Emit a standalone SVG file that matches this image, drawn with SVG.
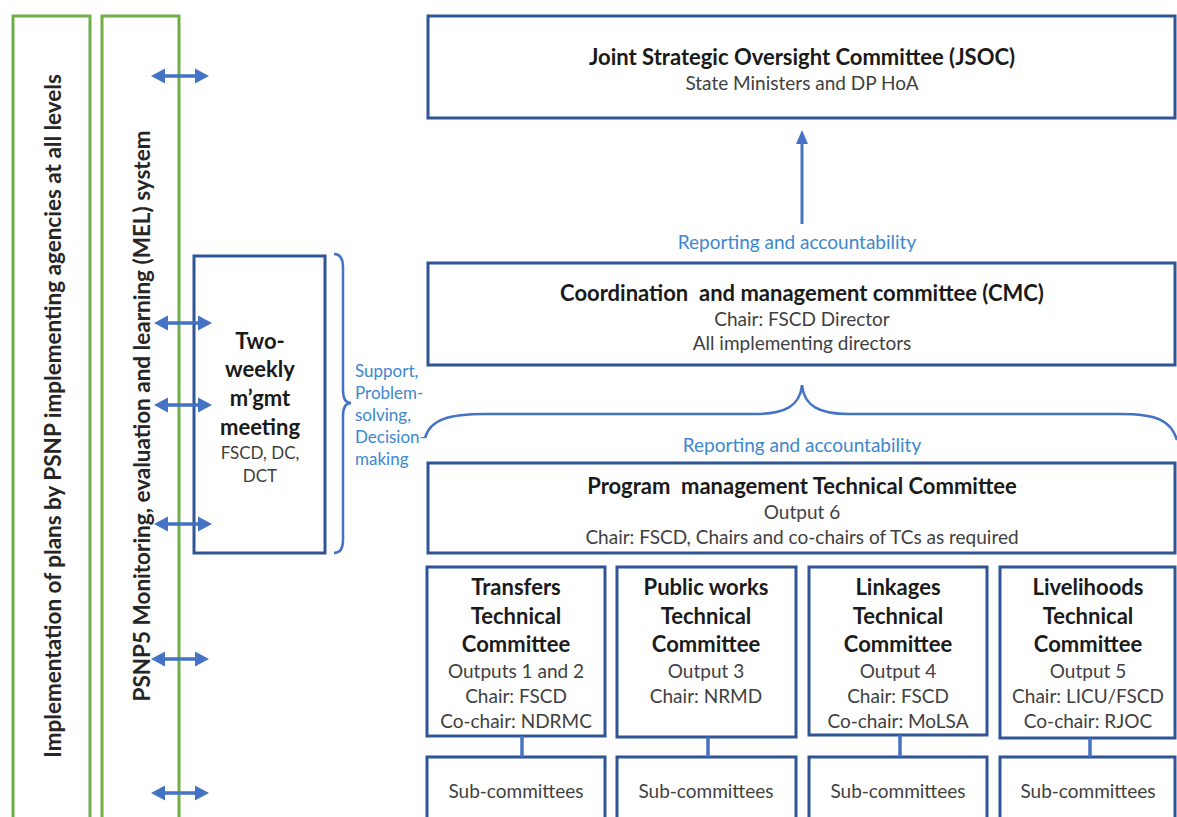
<svg xmlns="http://www.w3.org/2000/svg" xmlns:xlink="http://www.w3.org/1999/xlink" width="1177" height="817" viewBox="0 0 1177 817">
  <style>
    text { font-family: Lato, "Liberation Sans", sans-serif; text-anchor: middle; dominant-baseline: central; }
    .box { fill: #ffffff; stroke: #2F5597; stroke-width: 3; }
    .bar { fill: none; stroke: #70AD47; stroke-width: 3; }
    .ttl { font-size: 22px; font-weight: 700; fill: #1a1a1a; }
    .tc { font-size: 22px; font-weight: 700; fill: #1a1a1a; }
    .sub { font-size: 19px; fill: #404040; }
    .small { font-size: 17px; fill: #404040; }
    .lbl { font-size: 19px; fill: #3C87CF; }
    .side { font-size: 17px; fill: #3C87CF; text-anchor: start; }
    .vert { font-size: 22.5px; font-weight: 700; fill: #262626; }
    .wire { fill: none; stroke: #4472C4; stroke-width: 2.5; }
    .link { fill: none; stroke: #4472C4; stroke-width: 3.5; }
    .arrow { fill: #4472C4; }
  </style>
  <defs>
    <!-- two-headed horizontal arrow, 58 px long, centred on y=0 -->
    <path id="dbl" class="arrow" d="M0,0 L14,-7.5 L14,-1.8 L44,-1.8 L44,-7.5 L58,0 L44,7.5 L44,1.8 L14,1.8 L14,7.5 Z"/>
  </defs>
  <rect width="1177" height="817" fill="#ffffff"/>

  <!-- vertical side bands -->
  <g id="implementation-band">
    <rect class="bar" x="13" y="16" width="77" height="820"/>
    <text class="vert" transform="translate(52,416) rotate(-90)">Implementation of plans by PSNP implementing agencies at all levels</text>
  </g>
  <g id="mel-band">
    <rect class="bar" x="102" y="16" width="77" height="820"/>
    <text class="vert" transform="translate(141,416) rotate(-90)">PSNP5 Monitoring, evaluation and learning (MEL) system</text>
  </g>

  <!-- management meeting -->
  <g id="two-weekly-meeting">
    <rect class="box" x="194" y="256" width="131" height="297"/>
    <text class="tc" x="260" y="340">Two-</text>
    <text class="tc" x="260" y="368">weekly</text>
    <text class="tc" x="260" y="397">m’gmt</text>
    <text class="tc" x="260" y="426">meeting</text>
    <text class="small" x="260" y="452">FSCD, DC,</text>
    <text class="small" x="260" y="475">DCT</text>
  </g>

  <g id="support-label">
    <text class="side" x="355" y="370">Support,</text>
    <text class="side" x="355" y="392">Problem-</text>
    <text class="side" x="355" y="414">solving,</text>
    <text class="side" x="355" y="436">Decision-</text>
    <text class="side" x="355" y="458">making</text>
  </g>

  <!-- committees -->
  <g id="jsoc">
    <rect class="box" x="428" y="16" width="747" height="102"/>
    <text class="ttl" x="802" y="56">Joint Strategic Oversight Committee (JSOC)</text>
    <text class="sub" x="802" y="82">State Ministers and DP HoA</text>
  </g>
  <g id="cmc">
    <rect class="box" x="428" y="263" width="747" height="102"/>
    <text class="ttl" x="802" y="292" xml:space="preserve">Coordination  and management committee (CMC)</text>
    <text class="sub" x="802" y="318">Chair: FSCD Director</text>
    <text class="sub" x="802" y="342">All implementing directors</text>
  </g>
  <g id="pmtc">
    <rect class="box" x="428" y="463" width="747" height="90"/>
    <text class="ttl" x="802" y="485" xml:space="preserve">Program  management Technical Committee</text>
    <text class="sub" x="802" y="511">Output 6</text>
    <text class="sub" x="802" y="536">Chair: FSCD, Chairs and co-chairs of TCs as required</text>
  </g>

  <g id="transfers-tc">
    <rect class="box" x="427" y="567" width="178" height="169"/>
    <text class="tc" x="516" y="586">Transfers</text>
    <text class="tc" x="516" y="615">Technical</text>
    <text class="tc" x="516" y="643">Committee</text>
    <text class="sub" x="516" y="670">Outputs 1 and 2</text>
    <text class="sub" x="516" y="695">Chair: FSCD</text>
    <text class="sub" x="516" y="720">Co-chair: NDRMC</text>
  </g>
  <g id="public-works-tc">
    <rect class="box" x="617" y="567" width="179" height="170"/>
    <text class="tc" x="706" y="586">Public works</text>
    <text class="tc" x="706" y="615">Technical</text>
    <text class="tc" x="706" y="643">Committee</text>
    <text class="sub" x="706" y="670">Output 3</text>
    <text class="sub" x="706" y="695">Chair: NRMD</text>
  </g>
  <g id="linkages-tc">
    <rect class="box" x="809" y="567" width="178" height="168"/>
    <text class="tc" x="898" y="586">Linkages</text>
    <text class="tc" x="898" y="615">Technical</text>
    <text class="tc" x="898" y="643">Committee</text>
    <text class="sub" x="898" y="670">Output 4</text>
    <text class="sub" x="898" y="695">Chair: FSCD</text>
    <text class="sub" x="898" y="720">Co-chair: MoLSA</text>
  </g>
  <g id="livelihoods-tc">
    <rect class="box" x="1000" y="567" width="175" height="171"/>
    <text class="tc" x="1088" y="586">Livelihoods</text>
    <text class="tc" x="1088" y="615">Technical</text>
    <text class="tc" x="1088" y="643">Committee</text>
    <text class="sub" x="1088" y="670">Output 5</text>
    <text class="sub" x="1088" y="695">Chair: LICU/FSCD</text>
    <text class="sub" x="1088" y="720">Co-chair: RJOC</text>
  </g>

  <g id="transfers-sub">
    <rect class="box" x="427" y="757" width="178" height="80"/>
    <text class="sub" x="516" y="790">Sub-committees</text>
  </g>
  <g id="public-works-sub">
    <rect class="box" x="617" y="757" width="179" height="80"/>
    <text class="sub" x="706" y="790">Sub-committees</text>
  </g>
  <g id="linkages-sub">
    <rect class="box" x="809" y="757" width="178" height="80"/>
    <text class="sub" x="898" y="790">Sub-committees</text>
  </g>
  <g id="livelihoods-sub">
    <rect class="box" x="1000" y="757" width="175" height="80"/>
    <text class="sub" x="1088" y="790">Sub-committees</text>
  </g>

  <!-- connectors -->
  <g id="connectors">
    <use xlink:href="#dbl" x="151" y="76"/>
    <use xlink:href="#dbl" x="154" y="323"/>
    <use xlink:href="#dbl" x="154" y="405"/>
    <use xlink:href="#dbl" x="154" y="524"/>
    <use xlink:href="#dbl" x="151" y="659"/>
    <use xlink:href="#dbl" x="151" y="793"/>

    <!-- reporting line up to JSOC -->
    <line class="wire" x1="802" y1="224" x2="802" y2="142" style="stroke-width:3"/>
    <path class="arrow" d="M802,130 L808,144 L796,144 Z"/>

    <!-- brace grouping the meeting -->
    <path class="wire" d="M334,254 Q343,254 343,267 L343,390 Q343,403 351,403 Q343,403 343,416 L343,540 Q343,553 334,553"/>

    <!-- brace gathering the technical committees toward the CMC -->
    <path class="wire" d="M425,438 C430,419 450,414 485,414 L755,414 C785,414 800,406 802,385 C804,406 819,414 849,414 L1120,414 C1158,414 1171,421 1177,440"/>

    <!-- committee to sub-committee links -->
    <line class="link" x1="522" y1="736" x2="522" y2="757"/>
    <line class="link" x1="708" y1="737" x2="708" y2="757"/>
    <line class="link" x1="900" y1="735" x2="900" y2="757"/>
    <line class="link" x1="1090" y1="738" x2="1090" y2="757"/>
  </g>

  <g id="labels">
    <text class="lbl" x="797" y="241">Reporting and accountability</text>
    <text class="lbl" x="802" y="444">Reporting and accountability</text>
  </g>
</svg>
